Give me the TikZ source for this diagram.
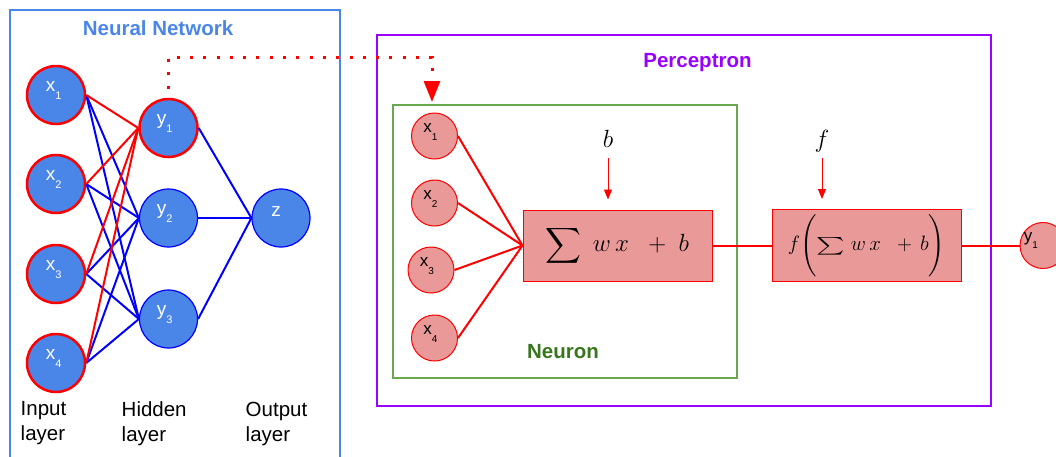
\documentclass[tikz,border=0pt]{standalone}
\usepackage{amsmath}
\usepackage{exscale}
\usepackage{fontspec}
\setmainfont{Liberation Sans}
\usetikzlibrary{arrows.meta}
\definecolor{nnblue}{HTML}{4A86E8}
\definecolor{boxblue}{HTML}{4A86E8}
\definecolor{pinkfill}{HTML}{EA9999}
\definecolor{purp}{HTML}{9900FF}
\definecolor{grn}{HTML}{6AA84F}
\definecolor{dgrn}{HTML}{38761D}
\newcommand\nlab[4]{\hspace*{#1}#2\raisebox{-#4}{\fontsize{11}{11}\selectfont #3}}
\newcommand\plab[4]{\hspace*{#1}#2\raisebox{-#4}{\fontsize{10}{10}\selectfont #3}}
\tikzset{
  nnode/.style={circle, minimum size=58pt, inner sep=0pt, fill=nnblue, text=white,
    font=\fontsize{19}{19}\selectfont, text height=10pt, text depth=18pt},
  rednode/.style={nnode, draw=red, line width=2.5pt},
  bluenode/.style={nnode, draw=blue, line width=1.2pt},
  pnode/.style={circle, minimum size=46pt, inner sep=0pt, fill=pinkfill, draw=red, line width=1pt,
    text=black, font=\fontsize{17}{17}\selectfont, text height=9pt, text depth=17pt},
  redge/.style={red, line width=2pt},
  bedge/.style={blue, line width=2pt},
  frame/.style={draw, line width=2pt, inner sep=0pt, anchor=north west, fill=none},
  title/.style={anchor=base, inner sep=0pt, font=\bfseries\fontsize{20.5}{24}\selectfont},
  layerlab/.style={anchor=north west, inner sep=0pt, align=left, font=\fontsize{20.5}{25}\selectfont},
  mbox/.style={draw=red, line width=1pt, fill=pinkfill, minimum width=189pt, inner sep=0pt},
  thinarrow/.style={red, line width=1pt, -{Triangle[width=8pt,length=10pt]}},
  dotline/.style={red, line width=3pt, dash pattern=on 3pt off 10.3pt, -{Triangle[width=16pt,length=21pt]}},
}
\begin{document}
\begin{tikzpicture}[x=1pt, y=-1pt]
\useasboundingbox (0,0) rectangle (1056,456);
% frames
\node[frame, draw=boxblue, minimum width=330pt, minimum height=470pt] (nnbox) at (9,9) {};
\node[frame, draw=purp, minimum width=614pt, minimum height=371pt] (pbox) at (376,34) {};
\node[frame, draw=grn, minimum width=344pt, minimum height=273pt] (nbox) at (392,104) {};
% titles
\node[title, text=boxblue] (nntitle) at (158,35) {Neural Network};
\node[title, text=purp] (ptitle) at (697.5,67) {Perceptron};
\node[title, text=dgrn] (ntitle) at (563,358) {Neuron};
% neural network nodes
\node[rednode] (x1) at (56,95) {\nlab{-4.4pt}{x}{1}{8pt}};
\node[rednode] (x2) at (56,184) {\nlab{-4.4pt}{x}{2}{8pt}};
\node[rednode] (x3) at (56,274) {\nlab{-4.4pt}{x}{3}{8pt}};
\node[rednode] (x4) at (56,363) {\nlab{-4.4pt}{x}{4}{8pt}};
\node[rednode] (y1) at (168.5,128) {\nlab{-7.4pt}{y}{1}{8pt}};
\node[bluenode] (y2) at (168.5,218) {\nlab{-7.4pt}{y}{2}{8pt}};
\node[bluenode] (y3) at (168.5,319) {\nlab{-7.4pt}{y}{3}{8pt}};
\node[bluenode, text depth=14pt] (z) at (281,218) {\hspace*{-10pt}z};
% edges
\foreach \i in {1,2,3,4} {
  \draw[bedge] (x\i.east) -- (y2.west);
  \draw[bedge] (x\i.east) -- (y3.west);
}
\foreach \i in {1,2,3,4} {
  \draw[redge] (x\i.east) -- (y1.west);
}
\foreach \j in {1,2,3} {
  \draw[bedge] (y\j.east) -- (z.west);
}
% layer labels
\node[layerlab] (inlab) at (20.5,401.5) {Input\\layer};
\node[layerlab] (hidlab) at (121.5,401.5) {Hidden\\layer};
\node[layerlab] (outlab) at (245.5,401.5) {Output\\layer};
% dotted connector
\coordinate (dc) at (432,57);
\draw[dotline] ([yshift=9pt]y1.north) |- (dc) -- ([yshift=2pt]nbox.north -| dc);
% neuron
\node[pnode] (nx1) at (434.5,136) {\plab{-8.4pt}{x}{1}{8pt}};
\node[pnode] (nx2) at (434.5,203) {\plab{-8.4pt}{x}{2}{8pt}};
\node[pnode] (nx3) at (431,270) {\plab{-8.4pt}{x}{3}{8pt}};
\node[pnode] (nx4) at (434.5,338) {\plab{-8.4pt}{x}{4}{8pt}};
\node[mbox, minimum height=71pt] (sum) at (617.5,245.5)
  {\fontsize{24}{28}\selectfont $\displaystyle\sum\;w\,x\;\;+\;b$};
\node[mbox, minimum height=72pt] (fbox) at (866.5,245.5)
  {\fontsize{20}{24}\selectfont $f\!\left(\vcenter{\hbox{\rule{0pt}{55pt}}}\scalebox{1.3}[0.85]{$\textstyle\sum$}\;w\,x\;\;+\,b\right)$};
\foreach \i in {1,2,3,4} {
  \draw[redge] (nx\i.east) -- (sum.west);
}
\node[anchor=base, inner sep=0pt, font=\fontsize{24}{28}\selectfont] (blab) at (608,147) {$b$};
\node[anchor=base, inner sep=0pt, font=\fontsize{24}{28}\selectfont] (flab) at (822,147) {$f$};
\draw[thinarrow] ([yshift=-11pt]blab.south) -- ([yshift=10pt]blab.south |- sum.north);
\draw[thinarrow] ([yshift=-6pt]flab.south) -- ([yshift=10pt]flab.south |- fbox.north);
\node[pnode] (out) at (1043,245.5) {\plab{-24pt}{y}{1}{7pt}};
\draw[redge] (sum.east) -- (fbox.west);
\draw[redge] (fbox.east) -- (out.west);
\end{tikzpicture}
\end{document}
